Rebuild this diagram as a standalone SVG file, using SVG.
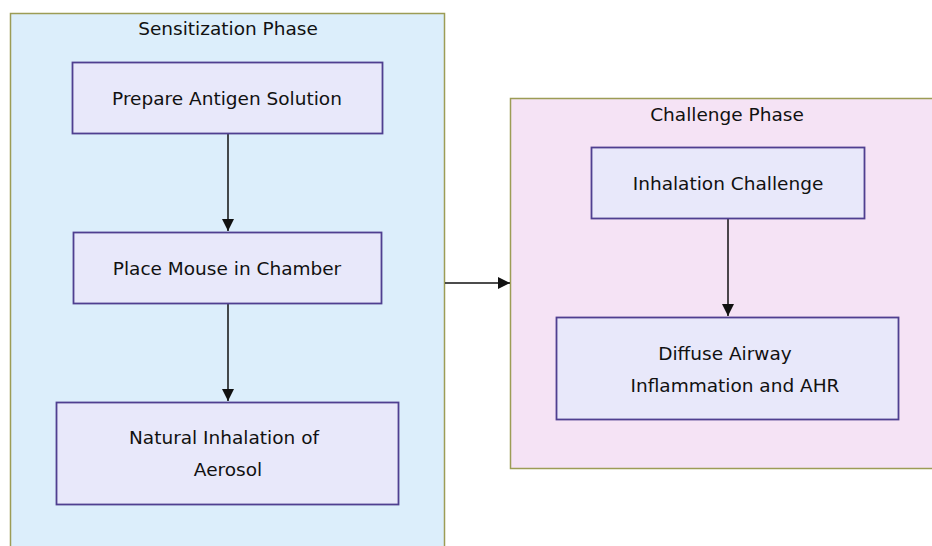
<svg xmlns="http://www.w3.org/2000/svg" width="932" height="546" viewBox="0 0 932 546">
  <style>
    .cluster-a { fill: #dceefb; stroke: #9c9c55; stroke-width: 1.5; }
    .cluster-b { fill: #f5e3f5; stroke: #9c9c55; stroke-width: 1.5; }
    .node rect { fill: #e8e8fa; stroke: #4f3f90; stroke-width: 1.8; }
    text { font-family: "DejaVu Sans", "Liberation Sans", sans-serif; font-size: 18.5px; fill: #111; text-anchor: middle; }
    .edge { stroke: #111; stroke-width: 1.5; fill: none; }
  </style>
  <defs>
    <marker id="arrowhead" viewBox="0 0 10 10" refX="10" refY="5" markerWidth="12" markerHeight="12" markerUnits="userSpaceOnUse" orient="auto">
      <path d="M0,0 L10,5 L0,10 z" fill="#111"/>
    </marker>
  </defs>
  <rect width="932" height="546" fill="#ffffff"/>

  <g id="sensitization-phase">
    <rect class="cluster-a" x="10.5" y="13.5" width="434" height="540"/>
    <text x="228" y="35">Sensitization Phase</text>
  </g>
  <g id="challenge-phase">
    <rect class="cluster-b" x="510.5" y="98.5" width="430" height="370"/>
    <text x="727" y="121">Challenge Phase</text>
  </g>

  <g id="edges">
    <line class="edge" x1="228" y1="133" x2="228" y2="231" marker-end="url(#arrowhead)"/>
    <line class="edge" x1="228" y1="303" x2="228" y2="401" marker-end="url(#arrowhead)"/>
    <line class="edge" x1="445" y1="283" x2="510" y2="283" marker-end="url(#arrowhead)"/>
    <line class="edge" x1="728" y1="218" x2="728" y2="316" marker-end="url(#arrowhead)"/>
  </g>

  <g id="prepare-antigen" class="node">
    <rect x="72.5" y="62.5" width="310" height="71"/>
    <text x="227" y="105">Prepare Antigen Solution</text>
  </g>
  <g id="place-mouse" class="node">
    <rect x="73.5" y="232.5" width="308" height="71"/>
    <text x="227" y="275">Place Mouse in Chamber</text>
  </g>
  <g id="natural-inhalation" class="node">
    <rect x="56.5" y="402.5" width="342" height="102"/>
    <text x="224" y="444">Natural Inhalation of</text>
    <text x="228" y="476">Aerosol</text>
  </g>
  <g id="inhalation-challenge" class="node">
    <rect x="591.5" y="147.5" width="273" height="71"/>
    <text x="728" y="190">Inhalation Challenge</text>
  </g>
  <g id="diffuse-airway" class="node">
    <rect x="556.5" y="317.5" width="342" height="102"/>
    <text x="725" y="360">Diffuse Airway</text>
    <text x="735" y="392">Inflammation and AHR</text>
  </g>
</svg>
